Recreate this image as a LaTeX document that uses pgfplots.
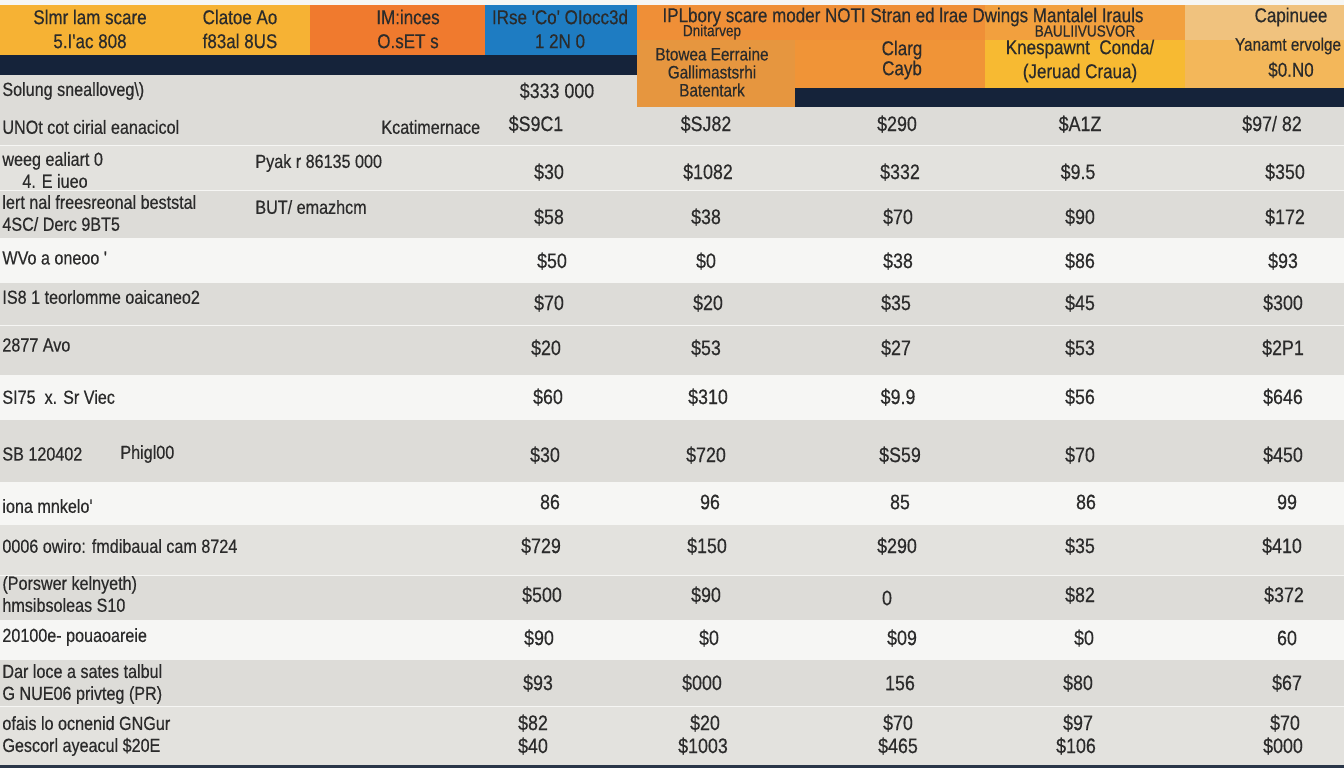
\documentclass[border=0pt]{standalone}
\usepackage{pgfplots}
\pgfplotsset{compat=1.18}
\usepackage{fontspec}
\setmainfont{Liberation Sans}
\newfontfamily\cond[FakeStretch=0.85,FakeBold=0.4]{Liberation Sans}
\definecolor{hY}{HTML}{F6B234}
\definecolor{hO}{HTML}{F07A2E}
\definecolor{hB}{HTML}{1E7CC2}
\definecolor{hO2}{HTML}{EF8F37}
\definecolor{hO3}{HTML}{F2A03E}
\definecolor{hT}{HTML}{F0C27E}
\definecolor{sub1}{HTML}{E6963F}
\definecolor{sub2}{HTML}{F09437}
\definecolor{sub3}{HTML}{F7BA32}
\definecolor{sub4}{HTML}{F3B75A}
\definecolor{navy}{HTML}{15233A}
\definecolor{gA}{HTML}{DDDCD8}
\definecolor{gB}{HTML}{E3E2DE}
\definecolor{gW}{HTML}{F6F6F4}
\definecolor{txt}{HTML}{2B2B2B}
\begin{document}
\begin{tikzpicture}
\begin{axis}[width=672pt,height=384pt,scale only axis,
  xmin=0,xmax=1344,ymin=0,ymax=768,y dir=reverse,hide axis,clip=false,
  every axis plot/.append style={draw=none}]
% page background
\addplot[fill=gW] coordinates {(0,0)(1344,0)(1344,768)(0,768)} --cycle;
% header blocks
\addplot[fill=hY] coordinates {(0,5)(310,5)(310,55)(0,55)} --cycle;
\addplot[fill=hO] coordinates {(310,5)(485,5)(485,55)(310,55)} --cycle;
\addplot[fill=hB] coordinates {(485,5)(637,5)(637,55)(485,55)} --cycle;
\addplot[fill=hO2] coordinates {(637,5)(985,5)(985,40)(637,40)} --cycle;
\addplot[fill=hO3] coordinates {(985,5)(1185,5)(1185,40)(985,40)} --cycle;
\addplot[fill=hT] coordinates {(1185,5)(1344,5)(1344,40)(1185,40)} --cycle;
\addplot[fill=navy] coordinates {(0,55)(637,55)(637,75)(0,75)} --cycle;
\addplot[fill=gA] coordinates {(0,75)(637,75)(637,107)(0,107)} --cycle;
\addplot[fill=sub1] coordinates {(637,40)(795,40)(795,107)(637,107)} --cycle;
\addplot[fill=sub2] coordinates {(795,40)(985,40)(985,88)(795,88)} --cycle;
\addplot[fill=sub3] coordinates {(985,40)(1185,40)(1185,88)(985,88)} --cycle;
\addplot[fill=sub4] coordinates {(1185,40)(1344,40)(1344,88)(1185,88)} --cycle;
\addplot[fill=navy] coordinates {(795,88)(1344,88)(1344,107)(795,107)} --cycle;
% body rows
\addplot[fill=gA] coordinates {(0,107)(1344,107)(1344,145)(0,145)} --cycle;
\addplot[fill=gB] coordinates {(0,146)(1344,146)(1344,190)(0,190)} --cycle;
\addplot[fill=gA] coordinates {(0,191)(1344,191)(1344,238)(0,238)} --cycle;
\addplot[fill=gA] coordinates {(0,283)(1344,283)(1344,325)(0,325)} --cycle;
\addplot[fill=gA] coordinates {(0,326)(1344,326)(1344,375)(0,375)} --cycle;
\addplot[fill=gA] coordinates {(0,420)(1344,420)(1344,482)(0,482)} --cycle;
\addplot[fill=gB] coordinates {(0,525)(1344,525)(1344,575)(0,575)} --cycle;
\addplot[fill=gA] coordinates {(0,576)(1344,576)(1344,620)(0,620)} --cycle;
\addplot[fill=gA] coordinates {(0,660)(1344,660)(1344,706)(0,706)} --cycle;
\addplot[fill=gB] coordinates {(0,707)(1344,707)(1344,765)(0,765)} --cycle;
\addplot[fill=navy!80!gray] coordinates {(0,765)(1344,765)(1344,768)(0,768)} --cycle;
% value cells
\addplot[mark=none,nodes near coords,point meta=explicit symbolic,
  every node near coord/.append style={anchor=center,font=\cond\fontsize{10.5}{12}\selectfont,text=txt}]
coordinates {
(557,91)[\$333 000]
(536,124)[\$S9C1] (706,124)[\$SJ82] (897,124)[\$290] (1080,124)[\$A1Z] (1272,124)[\$97/ 82]
(549,172)[\$30] (708,172)[\$1082] (900,172)[\$332] (1078,172)[\$9.5] (1285,172)[\$350]
(549,217)[\$58] (706,217)[\$38] (898,217)[\$70] (1080,217)[\$90] (1285,217)[\$172]
(552,261)[\$50] (706,261)[\$0] (898,261)[\$38] (1080,261)[\$86] (1283,261)[\$93]
(549,303)[\$70] (708,303)[\$20] (896,303)[\$35] (1080,303)[\$45] (1283,303)[\$300]
(546,348)[\$20] (706,348)[\$53] (896,348)[\$27] (1080,348)[\$53] (1283,348)[\$2P1]
(548,397)[\$60] (708,397)[\$310] (898,397)[\$9.9] (1080,397)[\$56] (1283,397)[\$646]
(545,455)[\$30] (706,455)[\$720] (900,455)[\$S59] (1080,455)[\$70] (1283,455)[\$450]
(550,502)[86] (710,502)[96] (900,502)[85] (1086,502)[86] (1287,502)[99]
(541,546)[\$729] (707,546)[\$150] (897,546)[\$290] (1080,546)[\$35] (1282,546)[\$410]
(542,595)[\$500] (706,595)[\$90] (887,598)[0] (1080,595)[\$82] (1284,595)[\$372]
(539,638)[\$90] (709,638)[\$0] (902,638)[\$09] (1084,638)[\$0] (1287,638)[60]
(538,683)[\$93] (702,683)[\$000] (900,683)[156] (1078,683)[\$80] (1287,683)[\$67]
(533,723)[\$82] (705,723)[\$20] (898,723)[\$70] (1078,723)[\$97] (1285,723)[\$70]
(533,746)[\$40] (703,746)[\$1003] (898,746)[\$465] (1076,746)[\$106] (1283,746)[\$000]
};
% row labels
\begin{scope}[every node/.style={anchor=west,font=\cond\fontsize{9.5}{11}\selectfont,text=txt,align=left,inner sep=0pt}]
\node at (axis cs:2,91) {Solung snealloveg\textbackslash)};
\node at (axis cs:2,127) {UNOt cot cirial eanacicol};
\node at (axis cs:381,127) {Kcatimernace};
\node at (axis cs:2,170) {weeg ealiart 0\\\hspace*{10pt}4. E iueo};
\node at (axis cs:255,163) {Pyak r 86135 000};
\node at (axis cs:2,213) {lert nal freesreonal beststal\\4SC/ Derc 9BT5};
\node at (axis cs:255,207) {BUT/ emazhcm};
\node at (axis cs:2,258) {WVo a oneoo '};
\node at (axis cs:2,297) {IS8 1 teorlomme oaicaneo2};
\node at (axis cs:2,345) {2877 Avo};
\node at (axis cs:2,397) {SI75 \ x. Sr Viec};
\node at (axis cs:2,454) {SB 120402};
\node at (axis cs:120,454) {Phigl00};
\node at (axis cs:2,506) {iona mnkelo'};
\node at (axis cs:2,546) {0006 owiro: fmdibaual cam 8724};
\node at (axis cs:2,594) {(Porswer kelnyeth)\\hmsibsoleas S10};
\node at (axis cs:2,637) {20100e- pouaoareie};
\node at (axis cs:2,684) {Dar loce a sates talbul\\G NUE06 privteg (PR)};
\node at (axis cs:2,736) {ofais lo ocnenid GNGur\\Gescorl ayeacul \$20E};
\end{scope}
% header texts
\begin{scope}[every node/.style={anchor=center,font=\cond\fontsize{10}{12}\selectfont,text=txt,align=center,inner sep=0pt}]
\node at (axis cs:90,29) {Slmr lam scare\\5.I'ac 808};
\node at (axis cs:240,29) {Clatoe Ao\\f83al 8US};
\node at (axis cs:408,29) {IM:inces\\O.sET s};
\node at (axis cs:560,29) {IRse 'Co' OIocc3d\\1 2N 0};
\node at (axis cs:903,17) {IPLbory scare moder NOTI Stran ed lrae Dwings Mantalel Irauls};
\node[font=\cond\fontsize{8}{9}\selectfont] at (axis cs:712,32) {Dnitarvep};
\node[font=\cond\fontsize{9}{9}\selectfont] at (axis cs:712,72) {Btowea Eerraine\\Gallimastsrhi\\Batentark};
\node at (axis cs:902,50) {Clarg};
\node at (axis cs:902,70) {Cayb};
\node[font=\cond\fontsize{8}{9}\selectfont] at (axis cs:1085,31) {BAULIIVUSVOR};
\node at (axis cs:1080,61) {Knespawnt \ Conda/\\(Jeruad Craua)};
\node at (axis cs:1291,17) {Capinuee};
\node[font=\cond\fontsize{9}{10}\selectfont] at (axis cs:1288,46) {Yanamt ervolge};
\node at (axis cs:1291,70) {\$0.N0};
\end{scope}
\end{axis}
\end{tikzpicture}
\end{document}
